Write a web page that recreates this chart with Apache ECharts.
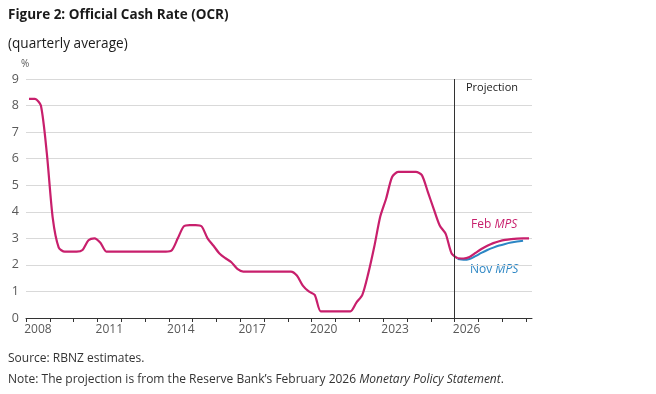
<!DOCTYPE html>
<html>
<head>
<meta charset="utf-8">
<script src="https://cdn.jsdelivr.net/npm/echarts@6/dist/echarts.min.js"></script>
<style>
html,body{margin:0;padding:0;background:#fff;}
#chart{width:656px;height:394px;}
</style>
</head>
<body>
<div id="chart"></div>
<script>
// ---- data (quarterly averages, %) ----
const historyStart = '2008Q1';
const ocrHistory = [
  8.25, 8.25, 8.0, 6.2,
  3.75, 2.65, 2.5, 2.5,
  2.5, 2.56, 2.93, 3.0,
  2.83, 2.5, 2.5, 2.5,
  2.5, 2.5, 2.5, 2.5,
  2.5, 2.5, 2.5, 2.5,
  2.55, 3.0, 3.45, 3.5,
  3.5, 3.45, 3.0, 2.72,
  2.43, 2.25, 2.1, 1.85,
  1.75, 1.75, 1.75, 1.75,
  1.75, 1.75, 1.75, 1.75,
  1.75, 1.6, 1.22, 1.0,
  0.87, 0.25, 0.25, 0.25,
  0.25, 0.25, 0.25, 0.58,
  0.87, 1.68, 2.68, 3.81,
  4.5, 5.31, 5.5, 5.5,
  5.5, 5.5, 5.38, 4.75,
  4.1, 3.48, 3.17, 2.43,
  2.25
];
const febStart = '2026Q1';
const febProjection = [2.25, 2.24, 2.3, 2.45, 2.6, 2.72, 2.82, 2.89, 2.94, 2.97, 2.99, 3.0, 3.0];
const novStart = '2026Q1';
const novProjection = [2.22, 2.19, 2.22, 2.33, 2.45, 2.56, 2.65, 2.73, 2.79, 2.84, 2.88, 2.91];
const yearTicks = [2008,2009,2010,2011,2012,2013,2014,2015,2016,2017,2018,2019,2020,2021,2022,2023,2024,2025,2026,2027,2028,2029];
const yearLabels = [2008, 2011, 2014, 2017, 2020, 2023, 2026];
const projectionStart = 2026;

// quarter label -> mid-quarter decimal year
function qToX(label, offset) {
  const y = parseInt(label.slice(0, 4), 10);
  const q = parseInt(label.slice(5), 10) - 1 + offset;
  return y + Math.floor(q / 4) + ((q % 4) + 0.5) / 4;
}
function toPairs(start, values) {
  return values.map((v, i) => [qToX(start, i), v]);
}

const MAG = '#C81F6C';
const BLUE = '#2C86C4';
const FONT = 'Open Sans';

const chart = echarts.init(document.getElementById('chart'), null, {renderer: 'canvas'});
chart.setOption({
  animation: false,
  backgroundColor: '#fff',
  textStyle: {fontFamily: FONT},
  title: [
    {text: 'Figure 2: Official Cash Rate (OCR)', left: 8, top: 8, padding: 0,
     textStyle: {fontFamily: FONT, fontSize: 13.5, fontWeight: 'bold', color: '#1a1a1a'}},
    {text: '(quarterly average)', left: 8, top: 37, padding: 0,
     textStyle: {fontFamily: FONT, fontSize: 13.6, fontWeight: 'normal', color: '#1a1a1a'}},
    {text: 'Source: RBNZ estimates.', left: 8, top: 353, padding: 0,
     textStyle: {fontFamily: FONT, fontSize: 12, fontWeight: 'normal', color: '#333'}},
    {text: 'Note: The projection is from the Reserve Bank\u2019s February 2026 {i|Monetary Policy Statement}.', left: 8, top: 374, padding: 0,
     textStyle: {fontFamily: FONT, fontSize: 12, fontWeight: 'normal', color: '#333',
       rich: {i: {fontFamily: FONT, fontSize: 12, fontStyle: 'italic', color: '#333'}}}}
  ],
  grid: {left: 26, right: 124, top: 79, bottom: 76, containLabel: false},
  xAxis: {
    type: 'value', min: 2008, max: 2029.25,
    axisLine: {show: true, onZero: false, lineStyle: {color: '#333', width: 1}},
    axisTick: {show: true, length: 4, customValues: yearTicks, lineStyle: {color: '#333', width: 1}},
    axisLabel: {customValues: yearLabels.map(y => y + 0.5), formatter: v => String(Math.floor(v)),
      color: '#595959', fontSize: 12, fontFamily: FONT, margin: 6},
    splitLine: {show: false}
  },
  yAxis: {
    type: 'value', min: 0, max: 9, interval: 1,
    axisLine: {show: false}, axisTick: {show: false},
    axisLabel: {color: '#595959', fontSize: 12.5, fontFamily: FONT, margin: 7},
    splitLine: {show: true, lineStyle: {color: '#d9d9d9', width: 1}}
  },
  graphic: [
    {type: 'text', left: 21, top: 59, style: {text: '%', fontFamily: FONT, fontSize: 10, fill: '#595959'}},
    {type: 'text', left: 466, top: 82, style: {text: 'Projection', fontFamily: FONT, fontSize: 11, fill: '#1a1a1a'}},
    {type: 'text', left: 471, top: 219, style: {text: '{n|Feb }{i|MPS}', rich: {
      n: {fontFamily: FONT, fontSize: 12, fill: MAG}, i: {fontFamily: FONT, fontSize: 12, fontStyle: 'italic', fill: MAG}}}},
    {type: 'text', left: 470, top: 264, style: {text: '{n|Nov }{i|MPS}', rich: {
      n: {fontFamily: FONT, fontSize: 12, fill: BLUE}, i: {fontFamily: FONT, fontSize: 12, fontStyle: 'italic', fill: BLUE}}}}
  ],
  series: [
    {name: 'Nov MPS', type: 'line', data: toPairs(novStart, novProjection), showSymbol: false, smooth: 0.25,
     lineStyle: {color: BLUE, width: 2}, z: 2},
    {name: 'OCR', type: 'line', data: toPairs(historyStart, ocrHistory), showSymbol: false, smooth: 0.25,
     lineStyle: {color: MAG, width: 2.2}, z: 3,
     markLine: {silent: true, symbol: 'none', label: {show: false},
       lineStyle: {color: '#333', width: 1, type: 'solid'}, data: [{xAxis: projectionStart}]}},
    {name: 'Feb MPS', type: 'line', data: toPairs(febStart, febProjection), showSymbol: false, smooth: 0.25,
     lineStyle: {color: MAG, width: 2.2}, z: 3}
  ]
});
</script>
</body>
</html>
